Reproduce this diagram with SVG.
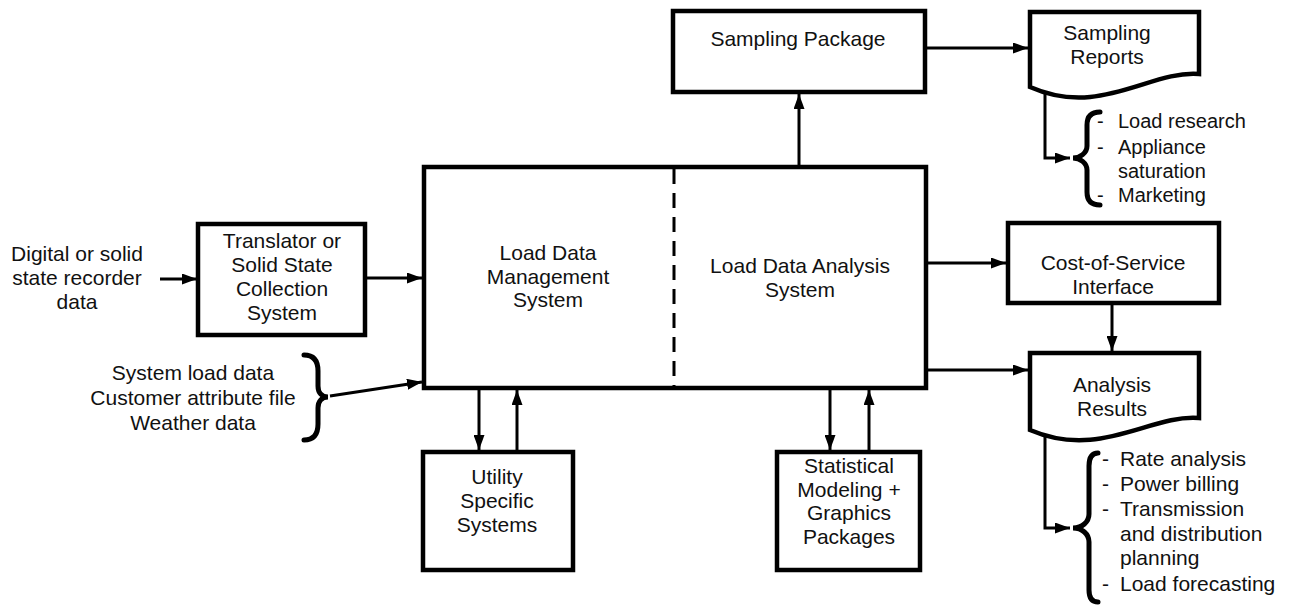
<svg xmlns="http://www.w3.org/2000/svg" width="1290" height="606" viewBox="0 0 1290 606">
<defs>
<marker id="ah" markerUnits="userSpaceOnUse" markerWidth="15" markerHeight="11" refX="15" refY="5.5" orient="auto">
<path d="M0,0 L15,5.5 L0,11 Z" fill="#000"/>
</marker>
<style>
.box{fill:#fff;stroke:#000;stroke-width:4.5}
.t{font-family:"Liberation Sans",Arial,sans-serif;font-size:21px;fill:#111;text-anchor:middle}
.l{font-family:"Liberation Sans",Arial,sans-serif;font-size:21px;fill:#111}
.c{fill:none;stroke:#000;stroke-width:3}
.a{fill:none;stroke:#000;stroke-width:3;marker-end:url(#ah)}
.br{fill:none;stroke:#000;stroke-width:5;stroke-linecap:round}
</style>
</defs>
<rect width="1290" height="606" fill="#fff"/>

<g id="connectors">
<line class="a" x1="160" y1="279" x2="197" y2="279"/>
<line class="a" x1="365" y1="278" x2="422" y2="278"/>
<line class="a" x1="330" y1="396" x2="422" y2="382"/>
<line class="a" x1="799" y1="167" x2="799" y2="94"/>
<line class="a" x1="925" y1="48" x2="1028" y2="48"/>
<polyline class="a" points="1045,92 1045,158 1070,158"/>
<line class="a" x1="926" y1="263" x2="1006" y2="263"/>
<line class="a" x1="926" y1="370" x2="1028" y2="370"/>
<line class="a" x1="1112" y1="303" x2="1112" y2="351"/>
<polyline class="a" points="1045,435 1045,528 1070,528"/>
<line class="a" x1="479" y1="388" x2="479" y2="450"/>
<line class="a" x1="517" y1="452" x2="517" y2="390"/>
<line class="a" x1="830" y1="388" x2="830" y2="450"/>
<line class="a" x1="869" y1="452" x2="869" y2="390"/>
</g>

<g id="digital-input">
<text class="t" x="77" y="261">Digital or solid</text>
<text class="t" x="77" y="285">state recorder</text>
<text class="t" x="77" y="309">data</text>
</g>

<g id="translator">
<rect class="box" x="198" y="224" width="167" height="111"/>
<text class="t" x="282" y="248">Translator or</text>
<text class="t" x="282" y="272">Solid State</text>
<text class="t" x="282" y="296">Collection</text>
<text class="t" x="282" y="320">System</text>
</g>

<g id="other-inputs">
<text class="t" x="193" y="380">System load data</text>
<text class="t" x="193" y="405">Customer attribute file</text>
<text class="t" x="193" y="430">Weather data</text>
<path class="br" d="M304,355 C314,355 318,361 318,371 V386 C318,393 322,397 328,397 C322,397 318,401 318,408 V424 C318,434 314,440 304,440"/>
</g>

<g id="main-system">
<rect class="box" x="424" y="167" width="502" height="221"/>
<line x1="674" y1="169" x2="674" y2="386" stroke="#000" stroke-width="3" stroke-dasharray="15,9"/>
<text class="t" x="548" y="260">Load Data</text>
<text class="t" x="548" y="284">Management</text>
<text class="t" x="548" y="307">System</text>
<text class="t" x="800" y="273">Load Data Analysis</text>
<text class="t" x="800" y="297">System</text>
</g>

<g id="sampling-package">
<rect class="box" x="673" y="11" width="252" height="81"/>
<text class="t" x="798" y="46">Sampling Package</text>
</g>

<g id="sampling-reports">
<path class="box" d="M1030,12 H1199 V74 C1150,70 1100,118 1030,87 Z"/>
<text class="t" x="1107" y="40">Sampling</text>
<text class="t" x="1107" y="64">Reports</text>
</g>

<g id="sampling-list">
<path class="br" d="M1100,112 C1092,112 1087,116 1087,125 V146 C1087,153 1080,158 1073,158 C1080,158 1087,163 1087,170 V192 C1087,201 1092,205 1100,205"/>
<text class="l" x="1097" y="128" style="font-size:20px">-</text>
<text class="l" x="1118" y="128" style="font-size:20px">Load research</text>
<text class="l" x="1097" y="154" style="font-size:20px">-</text>
<text class="l" x="1118" y="154" style="font-size:20px">Appliance</text>
<text class="l" x="1118" y="178" style="font-size:20px">saturation</text>
<text class="l" x="1097" y="202" style="font-size:20px">-</text>
<text class="l" x="1118" y="202" style="font-size:20px">Marketing</text>
</g>

<g id="cost-of-service">
<rect class="box" x="1008" y="223" width="211" height="80"/>
<text class="t" x="1113" y="270">Cost-of-Service</text>
<text class="t" x="1113" y="294">Interface</text>
</g>

<g id="analysis-results">
<path class="box" d="M1030,353 H1199 V418 C1150,414 1100,460 1030,430 Z"/>
<text class="t" x="1112" y="392">Analysis</text>
<text class="t" x="1112" y="416">Results</text>
</g>

<g id="analysis-list">
<path class="br" d="M1098,453 C1092,453 1089,457 1089,466 V514 C1089,522 1082,528 1073,528 C1082,528 1089,534 1089,542 V590 C1089,598 1092,602 1098,602"/>
<text class="l" x="1102" y="466">-</text>
<text class="l" x="1120" y="466">Rate analysis</text>
<text class="l" x="1102" y="491">-</text>
<text class="l" x="1120" y="491">Power billing</text>
<text class="l" x="1102" y="516">-</text>
<text class="l" x="1120" y="516">Transmission</text>
<text class="l" x="1120" y="541">and distribution</text>
<text class="l" x="1120" y="565">planning</text>
<text class="l" x="1102" y="591">-</text>
<text class="l" x="1120" y="591">Load forecasting</text>
</g>

<g id="utility">
<rect class="box" x="423" y="452" width="150" height="118"/>
<text class="t" x="497" y="484">Utility</text>
<text class="t" x="497" y="508">Specific</text>
<text class="t" x="497" y="532">Systems</text>
</g>

<g id="statistical">
<rect class="box" x="777" y="452" width="143" height="118"/>
<text class="t" x="849" y="473">Statistical</text>
<text class="t" x="849" y="497">Modeling +</text>
<text class="t" x="849" y="520">Graphics</text>
<text class="t" x="849" y="544">Packages</text>
</g>
</svg>
